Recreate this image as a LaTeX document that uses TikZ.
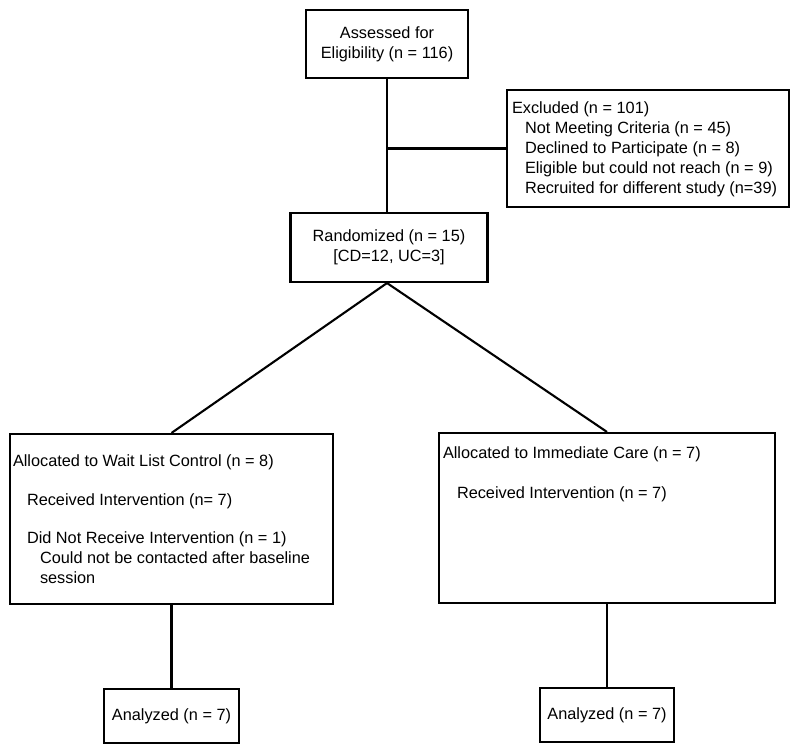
\documentclass[tikz,border=0pt]{standalone}
\usepackage{fontspec}
\setmainfont{Liberation Sans}
\newcommand{\diagfont}{\fontsize{16.3}{20}\selectfont}
\begin{document}
\begin{tikzpicture}[x=1pt,y=-1pt, line width=2.1pt,
  box/.style={draw, rectangle, inner sep=0pt},
  cbox/.style={draw, rectangle, inner sep=0pt, align=center, font=\diagfont},
  txt/.style={inner sep=0pt, align=left, font=\diagfont},
  link/.style={draw, line width=2.1pt}]
\useasboundingbox (0,0) rectangle (800,754);

\node[cbox, minimum width=162pt, minimum height=68pt] (assess) at (387,44) {Assessed for\\Eligibility (n = 116)};

\node[box, minimum width=282pt, minimum height=117pt] (excl) at (648,148.5) {};
\node[txt, anchor=west] (excltxt) at ([xshift=5pt,yshift=-1pt]excl.west) {Excluded (n = 101)\\
\hspace*{13pt}Not Meeting Criteria (n = 45)\\
\hspace*{13pt}Declined to Participate (n = 8)\\
\hspace*{13pt}Eligible but could not reach (n = 9)\\
\hspace*{13pt}Recruited for different study (n=39)};

\node[cbox, minimum width=197pt, minimum height=69pt] (rand) at (389,247.5) {Randomized (n = 15)\\{}[CD=12, UC=3]};

\node[box, minimum width=323pt, minimum height=170pt] (wait) at (171.5,519) {};
\node[txt, anchor=west] (waittxt) at ([xshift=3pt]wait.west) {Allocated to Wait List Control (n = 8)\\[19pt]
\hspace*{14pt}Received Intervention (n= 7)\\[18pt]
\hspace*{14pt}Did Not Receive Intervention (n = 1)\\
\hspace*{27pt}Could not be contacted after baseline\\
\hspace*{27pt}session};

\node[box, minimum width=336pt, minimum height=170pt] (imm) at (607,518) {};
\node[txt, anchor=north west] (immtxt) at ([xshift=4pt,yshift=-14pt]imm.north west) {Allocated to Immediate Care (n = 7)\\[20pt]
\hspace*{14pt}Received Intervention (n = 7)};

\node[cbox, minimum width=135pt, minimum height=54pt] (anl) at (171.5,716) {Analyzed (n = 7)};
\node[cbox, minimum width=134pt, minimum height=54pt] (anr) at (607,715) {Analyzed (n = 7)};

\coordinate (split) at (assess.south |- rand.south);
\coordinate (branch) at (assess.south |- excl.west);
\draw[link] (assess.south) -- (assess.south |- rand.north);
\draw[link] (branch) -- (excl.west);
\draw[link] (split) -- (wait.north);
\draw[link] (split) -- (imm.north);
\draw[link] (wait.south) -- (anl.north);
\draw[link] (imm.south) -- (anr.north);
\end{tikzpicture}
\end{document}
